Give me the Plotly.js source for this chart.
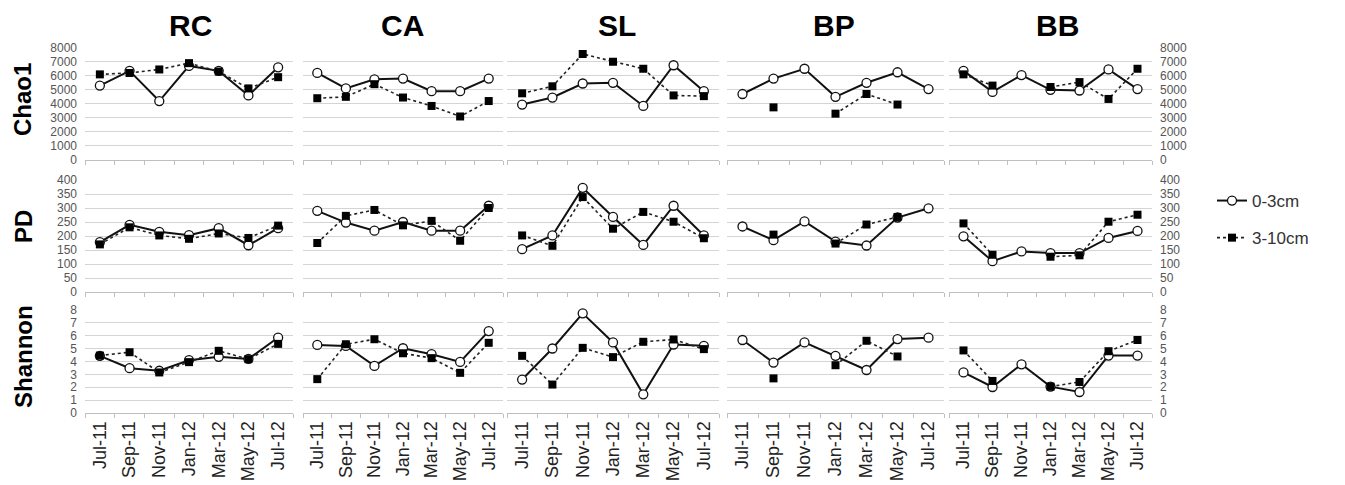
<!DOCTYPE html>
<html>
<head>
<meta charset="utf-8">
<script src="https://cdn.plot.ly/plotly-3.0.1.min.js"></script>
<style>html,body{margin:0;padding:0;background:#fff;}#chart{width:1345px;height:485px;}</style>
</head>
<body>
<div id="chart"></div>
<script>
// ---- data ----
const months = ['Jul-11','Sep-11','Nov-11','Jan-12','Mar-12','May-12','Jul-12'];
const sites = ['RC','CA','SL','BP','BB'];
const metrics = ['Chao1','PD','Shannon'];
const depthNames = ['0-3cm','3-10cm'];

const chao1_RC_shallow = [5300,6350,4200,6700,6350,4600,6600];
const chao1_CA_shallow = [6200,5100,5750,5800,4900,4900,5800];
const chao1_SL_shallow = [3950,4450,5450,5500,3850,6750,4900];
const chao1_BP_shallow = [4700,5800,6500,4500,5500,6250,5050];
const chao1_BB_shallow = [6350,4850,6050,5000,4950,6450,5050];

const chao1_RC_deep = [6100,6200,6450,6900,6300,5100,5900];
const chao1_CA_deep = [4400,4500,5400,4450,3850,3100,4200];
const chao1_SL_deep = [4750,5250,7550,7000,6500,4600,4550];
const chao1_BP_deep = [null,3750,null,3300,4700,3950,null];
const chao1_BB_deep = [6100,5300,null,5200,5550,4350,6500];

const pd_RC_shallow = [178,240,215,203,228,167,228];
const pd_CA_shallow = [290,248,219,250,219,219,308];
const pd_SL_shallow = [153,202,372,268,168,308,202];
const pd_BP_shallow = [234,185,252,180,166,266,299];
const pd_BB_shallow = [199,110,145,139,139,193,218];

const pd_RC_deep = [170,231,202,190,209,193,237];
const pd_CA_deep = [175,272,293,238,254,183,300];
const pd_SL_deep = [202,165,339,226,286,251,192];
const pd_BP_deep = [null,205,null,173,241,268,null];
const pd_BB_deep = [245,133,null,126,131,251,276];

const shannon_RC_shallow = [4.44,3.48,3.28,4.10,4.36,4.20,5.86];
const shannon_CA_shallow = [5.29,5.21,3.66,5.03,4.57,3.97,6.36];
const shannon_SL_shallow = [2.60,5.01,7.74,5.48,1.45,5.32,5.22];
const shannon_BP_shallow = [5.67,3.92,5.48,4.44,3.34,5.74,5.85];
const shannon_BB_shallow = [3.15,2.02,3.78,2.05,1.63,4.46,4.46];

const shannon_RC_deep = [4.46,4.72,3.15,3.95,4.83,4.18,5.37];
const shannon_CA_deep = [2.63,5.34,5.73,4.64,4.26,3.12,5.45];
const shannon_SL_deep = [4.44,2.21,5.06,4.34,5.53,5.71,4.96];
const shannon_BP_deep = [null,2.69,null,3.71,5.61,4.39,null];
const shannon_BB_deep = [4.86,2.49,null,2.05,2.41,4.80,5.67];

const yMax = [8000, 400, 8];
const yStep = [1000, 50, 1];

const series = {
  Chao1: {
    shallow: [chao1_RC_shallow, chao1_CA_shallow, chao1_SL_shallow, chao1_BP_shallow, chao1_BB_shallow],
    deep: [chao1_RC_deep, chao1_CA_deep, chao1_SL_deep, chao1_BP_deep, chao1_BB_deep]
  },
  PD: {
    shallow: [pd_RC_shallow, pd_CA_shallow, pd_SL_shallow, pd_BP_shallow, pd_BB_shallow],
    deep: [pd_RC_deep, pd_CA_deep, pd_SL_deep, pd_BP_deep, pd_BB_deep]
  },
  Shannon: {
    shallow: [shannon_RC_shallow, shannon_CA_shallow, shannon_SL_shallow, shannon_BP_shallow, shannon_BB_shallow],
    deep: [shannon_RC_deep, shannon_CA_deep, shannon_SL_deep, shannon_BP_deep, shannon_BB_deep]
  }
};

// ---- layout geometry (pixels) ----
const W = 1345, H = 485;
const colPx = [[85,293],[303,503],[507,719],[727,944],[949,1152]];
const rowPx = [[47.7,160],[180,292],[310,413]];
const titleX = [190,402,617,834,1057];
const rowLabelY = [100,227,357];

const FONT = 'Liberation Sans, Arial, Helvetica, sans-serif';
const traces = [];
const layout = {
  width: W, height: H,
  margin: {l:0, r:0, t:0, b:0},
  paper_bgcolor: '#ffffff',
  plot_bgcolor: '#ffffff',
  font: {family: FONT, color: '#222'},
  showlegend: true,
  legend: {
    x: 1212/W, y: 1 - 183/H, xanchor: 'left', yanchor: 'top',
    font: {family: FONT, size: 17, color: '#333'},
    traceorder: 'grouped', tracegroupgap: 12,
    itemwidth: 30, bgcolor: 'rgba(0,0,0,0)'
  },
  annotations: [],
  hovermode: false
};

let k = 0;
metrics.forEach((m, r) => {
  sites.forEach((s, c) => {
    k++;
    const xa = 'xaxis' + (k === 1 ? '' : k);
    const ya = 'yaxis' + (k === 1 ? '' : k);
    const xr = 'x' + (k === 1 ? '' : k);
    const yr = 'y' + (k === 1 ? '' : k);
    layout[xa] = {
      domain: [colPx[c][0]/W, colPx[c][1]/W],
      anchor: yr,
      type: 'category',
      categoryorder: 'array', categoryarray: months,
      range: [-0.5, 6.5],
      tickson: 'boundaries',
      ticks: 'outside', ticklen: 4, tickcolor: '#bfbfbf', tickwidth: 1,
      showline: true, linecolor: '#bfbfbf', linewidth: 1,
      showgrid: false, zeroline: false,
      showticklabels: r === 2,
      tickangle: -90,
      tickfont: {family: FONT, size: 18, color: '#222'},
      fixedrange: true
    };
    layout[ya] = {
      domain: [1 - rowPx[r][1]/H, 1 - rowPx[r][0]/H],
      anchor: xr,
      range: [0, yMax[r]],
      dtick: yStep[r], tick0: 0,
      showgrid: true, gridcolor: '#d4d4d4', gridwidth: 1,
      zeroline: false, showline: false,
      ticks: '', ticklen: 0,
      side: c === 4 ? 'right' : 'left',
      showticklabels: c === 0 || c === 4,
      ticklabelstandoff: 7,
      tickfont: {family: FONT, size: 12, color: '#555'},
      fixedrange: true
    };
    const sh = series[m].shallow[c];
    const dp = series[m].deep[c];
    traces.push({
      type: 'scatter', mode: 'lines+markers',
      x: months, y: sh, xaxis: xr, yaxis: yr,
      name: depthNames[0], legendgroup: 'a', showlegend: k === 1,
      connectgaps: false, cliponaxis: false,
      line: {color: '#111', width: 2},
      marker: {symbol: 'circle', size: 9, color: '#ffffff', line: {color: '#111', width: 1.3}}
    });
    traces.push({
      type: 'scatter', mode: 'lines+markers',
      x: months, y: dp, xaxis: xr, yaxis: yr,
      name: depthNames[1], legendgroup: 'b', showlegend: k === 1,
      connectgaps: false, cliponaxis: false,
      line: {color: '#222', width: 1.6, dash: 'dot'},
      marker: {symbol: 'square', size: 8, color: '#000', line: {color: '#000', width: 0}}
    });
  });
});

// column titles
sites.forEach((s, c) => {
  layout.annotations.push({
    text: s, xref: 'paper', yref: 'paper',
    x: titleX[c]/W, y: 1 - 25/H, xanchor: 'center', yanchor: 'middle',
    showarrow: false,
    font: {family: FONT, size: 30, color: '#000', weight: 'bold'}
  });
});
// row labels
metrics.forEach((m, r) => {
  layout.annotations.push({
    text: m, xref: 'paper', yref: 'paper',
    x: 23/W, y: 1 - rowLabelY[r]/H, xanchor: 'center', yanchor: 'middle',
    textangle: -90, showarrow: false,
    font: {family: FONT, size: 24, color: '#000', weight: 'bold'}
  });
});

Plotly.newPlot('chart', traces, layout, {staticPlot: true, displayModeBar: false});
</script>
</body>
</html>
